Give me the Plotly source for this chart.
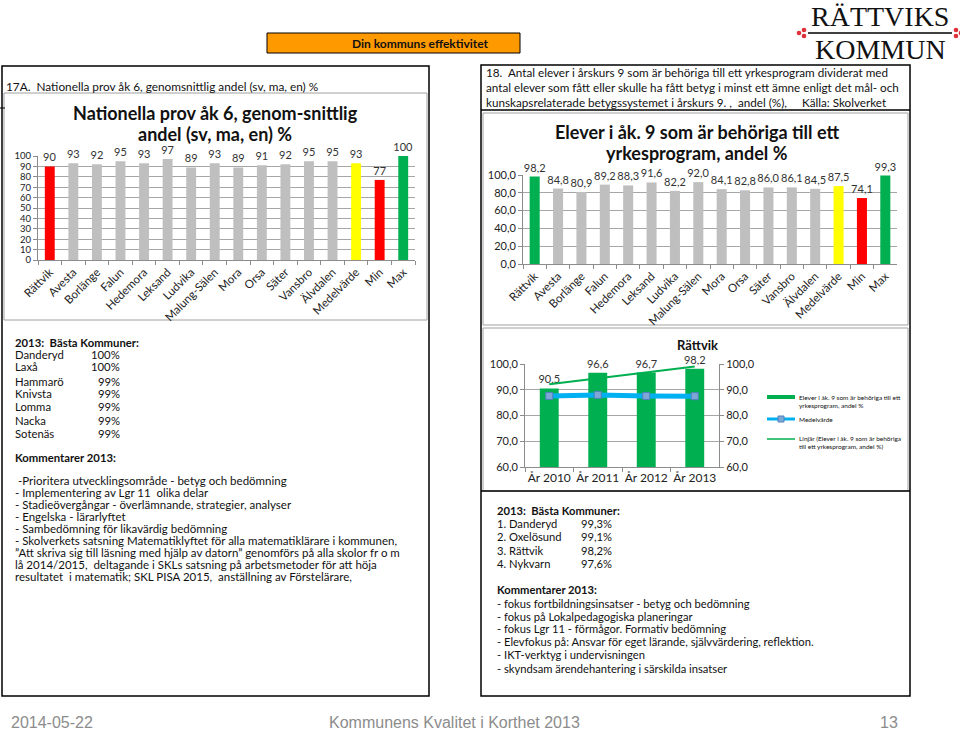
import plotly.graph_objects as go

W, H = 960, 731
FONT = "Lato, 'Open Sans', sans-serif"


def px(x):
    return x / W


def py(y):
    return 1 - y / H


# ---------------- data ----------------
categories = ["Rättvik", "Avesta", "Borlänge", "Falun", "Hedemora", "Leksand", "Ludvika",
              "Malung-Sälen", "Mora", "Orsa", "Säter", "Vansbro", "Älvdalen",
              "Medelvärde", "Min", "Max"]
prov_ak6 = [90, 93, 92, 95, 93, 97, 89, 93, 89, 91, 92, 95, 95, 93, 77, 100]
behoriga_ak9 = [98.2, 84.8, 80.9, 89.2, 88.3, 91.6, 82.2, 92.0, 84.1, 82.8, 86.0, 86.1,
                84.5, 87.5, 74.1, 99.3]

years = ["År 2010", "År 2011", "År 2012", "År 2013"]
rattvik_behoriga = [90.5, 96.6, 96.7, 98.2]
medelvarde_behoriga = [87.6, 88.0, 87.6, 87.5]
linjar_years = ["År 2010", "År 2013"]
linjar_values = [92.1, 99.0]

basta_17a_names = ["Danderyd", "Laxå", "Hammarö", "Knivsta", "Lomma", "Nacka", "Sotenäs"]
basta_17a_pct = ["100%", "100%", "99%", "99%", "99%", "99%", "99%"]
kommentarer_17a = [
    "-Prioritera utvecklingsområde - betyg och bedömning",
    "- Implementering av Lgr 11  olika delar",
    "- Stadieövergångar - överlämnande, strategier, analyser",
    "- Engelska - lärarlyftet",
    "- Sambedömning för likavärdig bedömning",
    "- Skolverkets satsning Matematiklyftet för alla matematiklärare i kommunen,",
    "”Att skriva sig till läsning med hjälp av datorn” genomförs på alla skolor fr o m",
    "lå 2014/2015,  deltagande i SKLs satsning på arbetsmetoder för att höja",
    "resultatet  i matematik; SKL PISA 2015,  anställning av Förstelärare,",
]
basta_18_names = ["1. Danderyd", "2. Oxelösund", "3. Rättvik", "4. Nykvarn"]
basta_18_pct = ["99,3%", "99,1%", "98,2%", "97,6%"]
kommentarer_18 = [
    "- fokus fortbildningsinsatser - betyg och bedömning",
    "- fokus på Lokalpedagogiska planeringar",
    "- fokus Lgr 11 - förmågor. Formativ bedömning",
    "- Elevfokus på: Ansvar för eget lärande, självvärdering, reflektion.",
    "- IKT-verktyg i undervisningen",
    "- skyndsam ärendehantering i särskilda insatser",
]
rubrik_18 = [
    "18.  Antal elever i årskurs 9 som är behöriga till ett yrkesprogram dividerat med",
    "antal elever som fått eller skulle ha fått betyg i minst ett ämne enligt det mål- och",
    "kunskapsrelaterade betygssystemet i årskurs 9. ,  andel (%),     Källa: Skolverket",
]

GREY = "#BFBFBF"
RED = "#FF0000"
YELLOW = "#FFFF00"
GREEN = "#00B050"


def fmt(v):
    return f"{v:.1f}".replace(".", ",")


colors1 = [{"Rättvik": RED, "Medelvärde": YELLOW, "Min": RED, "Max": GREEN}.get(c, GREY)
           for c in categories]
colors2 = [{"Rättvik": GREEN, "Medelvärde": YELLOW, "Min": RED, "Max": GREEN}.get(c, GREY)
           for c in categories]

fig = go.Figure()

# chart 1
fig.add_trace(go.Bar(
    x=categories, y=prov_ak6, marker=dict(color=colors1, line=dict(width=0)),
    width=0.42, text=[str(v) for v in prov_ak6], textposition="outside",
    constraintext="none", cliponaxis=False,
    textfont=dict(size=11, color="#333333", family=FONT),
    xaxis="x", yaxis="y", showlegend=False, hoverinfo="skip"))

# chart 2
fig.add_trace(go.Bar(
    x=categories, y=behoriga_ak9, marker=dict(color=colors2, line=dict(width=0)),
    width=0.43, text=[fmt(v) for v in behoriga_ak9], textposition="outside",
    constraintext="none", cliponaxis=False,
    textfont=dict(size=11, color="#333333", family=FONT),
    xaxis="x2", yaxis="y2", showlegend=False, hoverinfo="skip"))

# chart 3
fig.add_trace(go.Bar(
    x=years, y=rattvik_behoriga, marker=dict(color=GREEN, line=dict(width=0)),
    width=0.39, text=[fmt(v) for v in rattvik_behoriga], textposition="outside",
    constraintext="none", cliponaxis=False,
    textfont=dict(size=11, color="#333333", family=FONT),
    xaxis="x3", yaxis="y3", showlegend=False, hoverinfo="skip"))
fig.add_trace(go.Scatter(
    x=years, y=medelvarde_behoriga, mode="lines+markers",
    line=dict(color="#00B0F0", width=5),
    marker=dict(symbol="square", size=7, color="#7FA7D6", line=dict(color="#4F81BD", width=1)),
    xaxis="x3", yaxis="y3", showlegend=False, hoverinfo="skip"))
fig.add_trace(go.Scatter(
    x=linjar_years, y=linjar_values, mode="lines", line=dict(color=GREEN, width=2),
    xaxis="x3", yaxis="y3", showlegend=False, hoverinfo="skip"))
fig.add_trace(go.Scatter(
    x=years, y=rattvik_behoriga, mode="markers", marker=dict(opacity=0),
    xaxis="x3", yaxis="y4", showlegend=False, hoverinfo="skip"))

axis_common = dict(showline=True, linecolor="#8C8C8C", linewidth=1, ticks="outside",
                   tickcolor="#8C8C8C", ticklen=4, fixedrange=True, automargin=False)
xcat = dict(axis_common, tickson="boundaries", tickangle=-45,
            tickfont=dict(size=11.5, color="#222222", family=FONT), showgrid=False)
ycom = dict(axis_common, showgrid=True, gridcolor="#A6A6A6", gridwidth=1,
            tickfont=dict(size=11, color="#222222", family=FONT), zeroline=False)

fig.update_layout(
    template="none",
    width=W, height=H, margin=dict(l=0, r=0, t=0, b=0, pad=0, autoexpand=False),
    paper_bgcolor="white", plot_bgcolor="white", separators=",.",
    bargap=0.5, showlegend=False,
    xaxis=dict(xcat, domain=[px(38), px(415)], anchor="y"),
    yaxis=dict(ycom, domain=[py(260), py(156)], range=[0, 100], dtick=10, anchor="x",
               tickfont=dict(size=9.5, color="#222222", family=FONT)),
    xaxis2=dict(xcat, domain=[px(523), px(897)], anchor="y2"),
    yaxis2=dict(ycom, domain=[py(264), py(175)], range=[0, 100], dtick=20,
                tickformat=".1f", anchor="x2"),
    xaxis3=dict(axis_common, domain=[px(525), px(719)], anchor="y3", showgrid=False,
                tickson="boundaries", tickangle=0,
                tickfont=dict(size=12, color="#222222", family=FONT)),
    yaxis3=dict(ycom, domain=[py(467), py(364)], range=[60, 100], dtick=10,
                tickformat=".1f", anchor="x3"),
    yaxis4=dict(ycom, overlaying="y3", side="right", range=[60, 100], dtick=10,
                tickformat=".1f", anchor="x3", showgrid=False),
)

shapes = []


def rect(x0, y0, x1, y1, color="black", width=1.5, fill=None):
    shapes.append(dict(type="rect", xref="paper", yref="paper", x0=px(x0), x1=px(x1),
                       y0=py(y0), y1=py(y1), line=dict(color=color, width=width),
                       fillcolor=fill if fill else "rgba(0,0,0,0)", layer="below"))


def hline(x0, x1, y, color="black", width=1.5):
    shapes.append(dict(type="line", xref="paper", yref="paper", x0=px(x0), x1=px(x1),
                       y0=py(y), y1=py(y), line=dict(color=color, width=width)))


def dot(x, y, r=2.3, color="#E0303A"):
    shapes.append(dict(type="circle", xref="paper", yref="paper", x0=px(x - r), x1=px(x + r),
                       y0=py(y + r), y1=py(y - r), line=dict(width=0), fillcolor=color))


# left panel
rect(2, 66, 429, 696)
rect(4, 93, 427, 320, color="#A0A0A0", width=1)
hline(0, 5, 108, width=1)
# right panel
rect(481, 65, 910, 696)
hline(481, 910, 110)
rect(483, 113, 908, 325, color="#A0A0A0", width=1)
rect(483, 328, 908, 491, color="#A0A0A0", width=1)
hline(481, 910, 491, width=1.5)
# header
rect(267, 33, 520, 53, color="black", width=1, fill="#FF9900")
# logo
hline(808, 952, 33, width=1.5)
for (x, y) in [(804, 30), (804, 36), (799, 33), (956, 30), (956, 36), (961, 33)]:
    dot(x, y)
# chart 3 legend swatches
shapes.append(dict(type="rect", xref="paper", yref="paper", x0=px(767), x1=px(795),
                   y0=py(399), y1=py(395), line=dict(width=0), fillcolor=GREEN))
hline(767, 795, 419, color="#00B0F0", width=3)
shapes.append(dict(type="rect", xref="paper", yref="paper", x0=px(778), x1=px(784),
                   y0=py(422), y1=py(416), line=dict(color="#4F81BD", width=1),
                   fillcolor="#7FA7D6"))
hline(767, 795, 439, color=GREEN, width=1.5)
fig.update_layout(shapes=shapes)


def txt(x, y, s, size=11.0, bold=False, color="#111111", anchor="left", family=FONT):
    fig.add_annotation(x=px(x), y=py(y), xref="paper", yref="paper",
                       text=f"<b>{s}</b>" if bold else s, showarrow=False,
                       xanchor=anchor, yanchor="middle", borderpad=0,
                       font=dict(size=size, color=color, family=family))


# header & logo text
txt(420, 43, "Din kommuns effektivitet", size=12, bold=True, anchor="center")
txt(880, 16, "RÄTTVIKS", size=28, anchor="center", family="'Liberation Serif', serif")
txt(880, 49, "KOMMUN", size=28, anchor="center", family="'Liberation Serif', serif")

# left panel texts
txt(5, 87, "17A.  Nationella prov åk 6, genomsnittlig andel (sv, ma, en) %", size=11.8)
txt(215, 113, "Nationella prov åk 6, genom-snittlig", size=18, bold=True, anchor="center")
txt(215, 134, "andel (sv, ma, en) %", size=18, bold=True, anchor="center")

txt(14, 342, "2013:  Bästa Kommuner:", size=11.3, bold=True)
rows_y = [354, 367, 381, 393, 407, 420, 433]
for yy, n, p in zip(rows_y, basta_17a_names, basta_17a_pct):
    txt(14, yy, n, size=11.3)
    txt(121, yy, p, size=11.3, anchor="right")
txt(14, 457, "Kommentarer 2013:", size=11.3, bold=True)
com_y = [480, 492, 504, 516, 528, 540, 552, 564, 576]
for i, (yy, s) in enumerate(zip(com_y, kommentarer_17a)):
    txt(17 if i == 0 else 14, yy, s, size=11.5)

# right panel texts
for yy, s in zip([72, 87, 102], rubrik_18):
    txt(485, yy, s, size=11.7)
txt(697, 132, "Elever i åk. 9 som är behöriga till ett", size=18, bold=True, anchor="center")
txt(697, 153, "yrkesprogram, andel %", size=18, bold=True, anchor="center")
txt(697, 345, "Rättvik", size=13, bold=True, anchor="center")

txt(798, 397, "Elever i åk. 9 som är behöriga till ett", size=6.5)
txt(798, 405, "yrkesprogram, andel %", size=6.5)
txt(798, 419, "Medelvärde", size=6.5)
txt(798, 439, "Linjär (Elever i åk. 9 som är behöriga", size=6.5)
txt(798, 447, "till ett yrkesprogram, andel %)", size=6.5)

txt(496, 510, "2013:  Bästa Kommuner:", size=11.2, bold=True)
for yy, n, p in zip([523, 536, 550, 563], basta_18_names, basta_18_pct):
    txt(496, yy, n, size=11.2)
    txt(580, yy, p, size=11.2)
txt(496, 589, "Kommentarer 2013:", size=11.2, bold=True)
for yy, s in zip([603, 616, 628, 641, 654, 668], kommentarer_18):
    txt(496, yy, s, size=11.2)

# footer
FOOT = "'Liberation Sans Narrow', 'Liberation Sans', sans-serif"
txt(10, 722, "2014-05-22", size=16, color="#8C8C8C", family=FOOT)
txt(454, 722, "Kommunens Kvalitet i Korthet 2013", size=16, color="#8C8C8C",
    anchor="center", family=FOOT)
txt(899, 722, "13", size=16, color="#8C8C8C", anchor="right", family=FOOT)

fig.write_html("out.html", config={"displayModeBar": False, "staticPlot": True},
               post_script="document.body.style.margin='0';document.body.style.overflow='hidden';")
